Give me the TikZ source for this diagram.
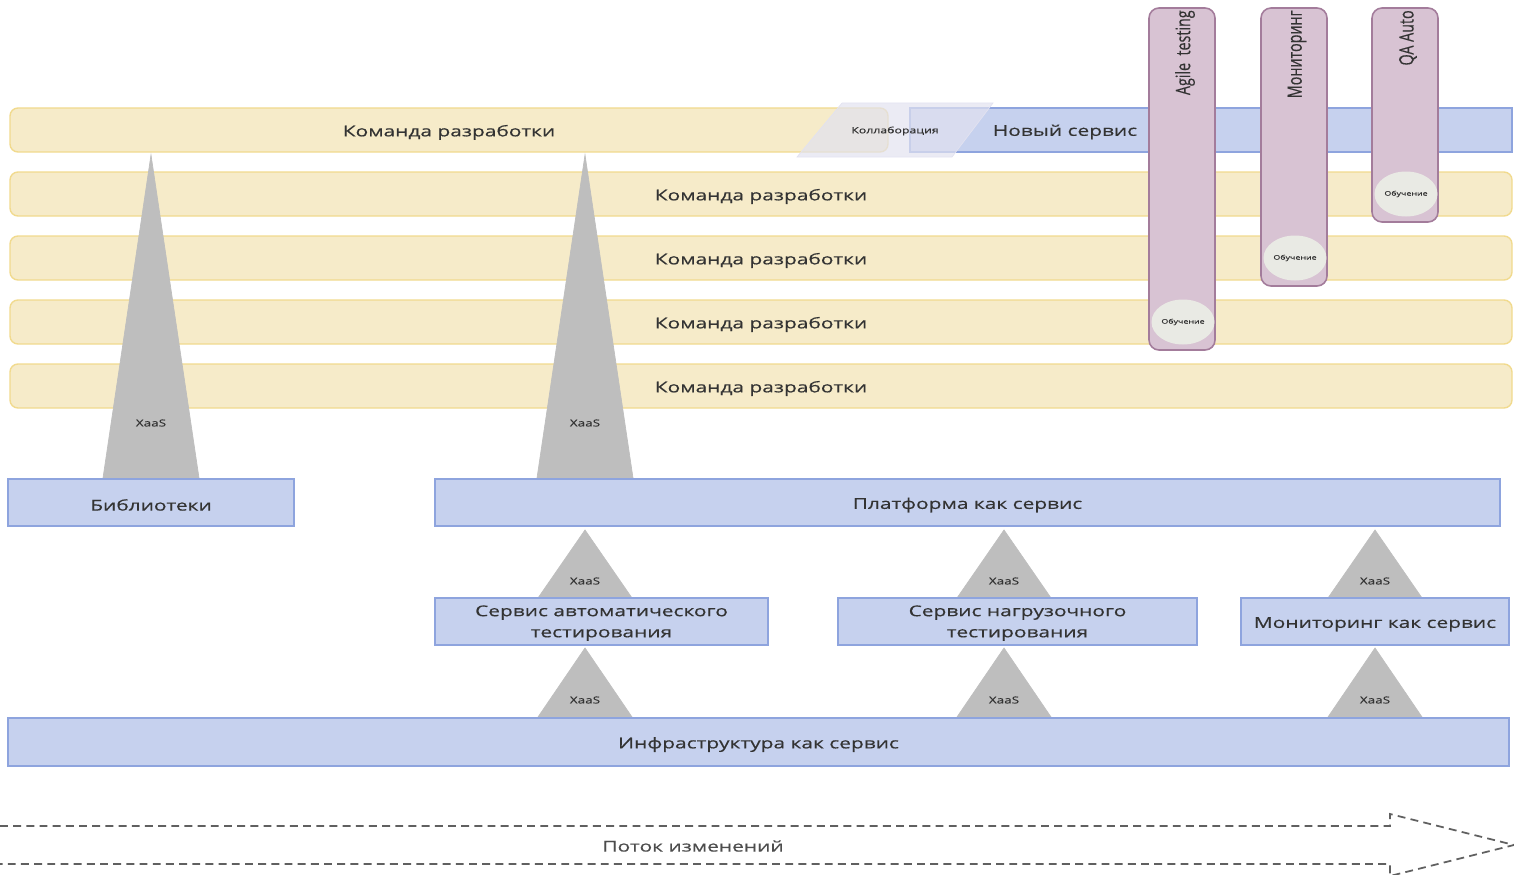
\documentclass[tikz,border=0pt]{standalone}
\usepackage{fontspec}
\setmainfont{Open Sans}[FakeStretch=1.4, FakeBold=0.4]
\newfontfamily\narrowfont{Open Sans}[FakeStretch=0.72, FakeBold=0.3]
\usetikzlibrary{shapes.geometric}

\definecolor{teamfill}{HTML}{F6EBC9}
\definecolor{teamline}{HTML}{F1DA8E}
\definecolor{bluefill}{HTML}{C6D1EE}
\definecolor{blueline}{HTML}{8EA4DE}
\definecolor{guildfill}{HTML}{D8C3D3}
\definecolor{guildline}{HTML}{A37C9B}
\definecolor{studyfill}{HTML}{E9EAE4}
\definecolor{xaasgray}{HTML}{BEBEBE}
\definecolor{collabfill}{HTML}{E2E2F0}
\definecolor{textgray}{HTML}{333333}
\definecolor{flowgray}{HTML}{606060}

\begin{document}
\begin{tikzpicture}[x=0.02cm, y=-0.02cm
	, every node/.style={
		text=textgray
		, inner sep=0pt
		, font=\fontsize{8.5}{12}\selectfont
	}
	, wd/.style={minimum width=(#1)*0.02cm}
	, ht/.style={minimum height=(#1)*0.02cm}
	, team/.style={rectangle, rounded corners=0.16cm, draw=teamline, fill=teamfill, line width=0.8pt, ht=44, text height=9.3pt}
	, service/.style={rectangle, draw=blueline, fill=bluefill, line width=0.9pt, ht=47, align=center, text height=9.3pt}
	, twoline/.style={text height=20pt}
	, guild/.style={rectangle, rounded corners=0.2cm, draw=guildline, fill=guildfill, line width=0.9pt, wd=66}
	, study/.style={ellipse, fill=studyfill, wd=63, ht=45, font=\fontsize{3.6}{4}\selectfont}
	, xaas/.style={fill=xaasgray, draw=xaasgray}
	, xaaslabel/.style={font=\fontsize{5.5}{6}\selectfont}
	, flow/.style={draw=flowgray, line width=1pt, dash pattern=on 4.5pt off 3pt}
]

\useasboundingbox (0,0) rectangle (1514,875);

% teams
\node[team, wd=878](team1) at(449,130) {Команда разработки};
\foreach [count=\i from 2] \y in {194, 258, 322, 386}{
	\node[team, wd=1502](team\i) at(761,\y) {Команда разработки};
}

\node[service, wd=602, ht=44](newsvc) at(1211,130) {};
\node(newsvclabel) at(1065,132) {Новый сервис};

\draw[fill=collabfill, fill opacity=0.7, draw=collabfill] (797,157) -- (842,103) -- (993,103) -- (952,157) -- cycle;
\node[font=\fontsize{5}{6}\selectfont](collab) at(895,131) {Коллаборация};

% guilds
\foreach \x/\yb/\name [count=\i] in {
	1182/350/Agile\ \ testing
	, 1294/286/Мониторинг
	, 1405/222/QA Auto
}{
	\node[guild, ht=\yb-8](guild\i) at(\x,{(\yb+8)/2}) {};
	\node[rotate=90, anchor=east, font=\narrowfont\fontsize{11.3}{12}\selectfont](guildlabel\i) at(\x+3,10) {\name};
	\node[study](study\i) at(\x+1,\yb-28) {Обучение};
}

% XaaS
\foreach \x [count=\i] in {151, 585}{
	\draw[xaas] (\x,155) -- (\x+48,478) -- (\x-48,478) -- cycle;
	\node[xaaslabel](big\i) at(\x,423) {XaaS};
}
\foreach \x [count=\i] in {585, 1004, 1375}{
	\draw[xaas] (\x,530) -- (\x+47,598) -- (\x-47,598) -- cycle;
	\node[xaaslabel](upper\i) at(\x,581) {XaaS};
	\draw[xaas] (\x,648) -- (\x+47,717) -- (\x-47,717) -- cycle;
	\node[xaaslabel](lower\i) at(\x,700) {XaaS};
}

\node[service, wd=286](libs) at(151,502.5) {Библиотеки};
\node[service, wd=1065](paas) at(967.5,502.5) {Платформа как сервис};
\node[service, twoline, wd=333](svc1) at(601.5,621.5) {Сервис автоматического\\тестирования};
\node[service, twoline, wd=359](svc2) at(1017.5,621.5) {Сервис нагрузочного\\тестирования};
\node[service, wd=268](svc3) at(1375,621.5) {Мониторинг как сервис};
\node[service, wd=1501, ht=48](iaas) at(758.5,742) {Инфраструктура как сервис};

% flow
\draw[flow] (0,826) -- (1390,826) -- (1390,814) -- (1514,845) -- (1390,876) -- (1390,864) -- (0,864);
\node[text=flowgray!80!black](flowlabel) at(693,846) {Поток изменений};

\end{tikzpicture}
\end{document}
